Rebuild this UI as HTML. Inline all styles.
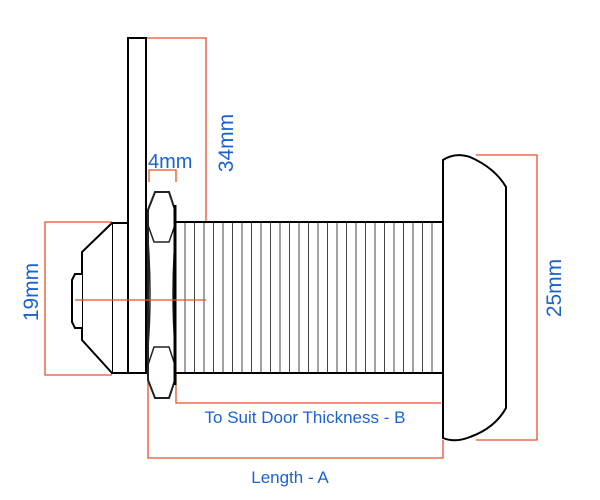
<!DOCTYPE html>
<html><head><style>html,body{margin:0;padding:0;background:#fff}svg{display:block}</style></head>
<body>
<svg width="600" height="500" viewBox="0 0 600 500" xmlns="http://www.w3.org/2000/svg">
<g fill="none" stroke="#e8502a" stroke-width="1.3">
<polyline points="146,38 206,38 206,300 75,300"/>
<polyline points="149,182 149,170 176,170 176,182"/>
<polyline points="112,222 45,222 45,375 112,375"/>
<polyline points="476,155 537,155 537,440 476,440"/>
<polyline points="176,373 176,403 441,403"/>
<polyline points="148,373 148,458 443,458 443,440"/>
</g>
<g fill="#fff" stroke="#000" stroke-width="2">
<rect x="175" y="222" width="268" height="151"/>
</g>
<g stroke="#444" stroke-width="1">
<path d="M185 223V372M194.5 223V372M204 223V372M213.5 223V372M223 223V372M232.5 223V372M242 223V372M251.5 223V372M261 223V372M270.5 223V372M280 223V372M289.5 223V372M299 223V372M308.5 223V372M318 223V372M327.5 223V372M337 223V372M346.5 223V372M356 223V372M365.5 223V372M375 223V372M384.5 223V372M394 223V372M403.5 223V372M413 223V372M422.5 223V372M432 223V372"/>
</g>
<g fill="#fff" stroke="#000" stroke-width="2">
<rect x="128" y="38" width="18" height="335"/>
<rect x="112" y="223" width="16" height="150"/>
<path d="M112 223 L82 252 L82 340 L112 373"/>
<path d="M82 274 L75 274 L72 280 L72 322 L75 328 L82 328"/>
<path d="M443 160 Q455 152 470 157 Q495 168 506 187 L506 408 Q495 428 470 437 Q455 443 443 438 Z"/>
<path d="M155 192 L169 192 L175 210 L175 380 L169 398 L155 398 L148 380 L148 210 Z" stroke="#222"/>
</g>
<g stroke="#222" stroke-width="1.5" fill="none">
<path d="M148 225 L154 242 L169 242 L175 225"/>
<path d="M148 365 L154 347 L169 347 L175 365"/>
<path d="M148 240 Q152 295 148 347"/>
<path d="M175 240 Q171 295 175 347"/>
</g>
<line x1="175" y1="205" x2="175" y2="385" stroke="#000" stroke-width="3"/>
<line x1="75" y1="300" x2="206" y2="300" stroke="#e8502a" stroke-width="1.3"/>
<g fill="#1a62d4" font-family="Liberation Sans, sans-serif">
<text x="148" y="168" font-size="20">4mm</text>
<text transform="translate(233,143) rotate(-90)" font-size="21" text-anchor="middle">34mm</text>
<text transform="translate(38,292) rotate(-90)" font-size="21" text-anchor="middle">19mm</text>
<text transform="translate(561,288) rotate(-90)" font-size="21" text-anchor="middle">25mm</text>
<text x="305" y="423" font-size="17" text-anchor="middle">To Suit Door Thickness - B</text>
<text x="290" y="483" font-size="17" text-anchor="middle">Length - A</text>
</g>
</svg>
</body></html>
